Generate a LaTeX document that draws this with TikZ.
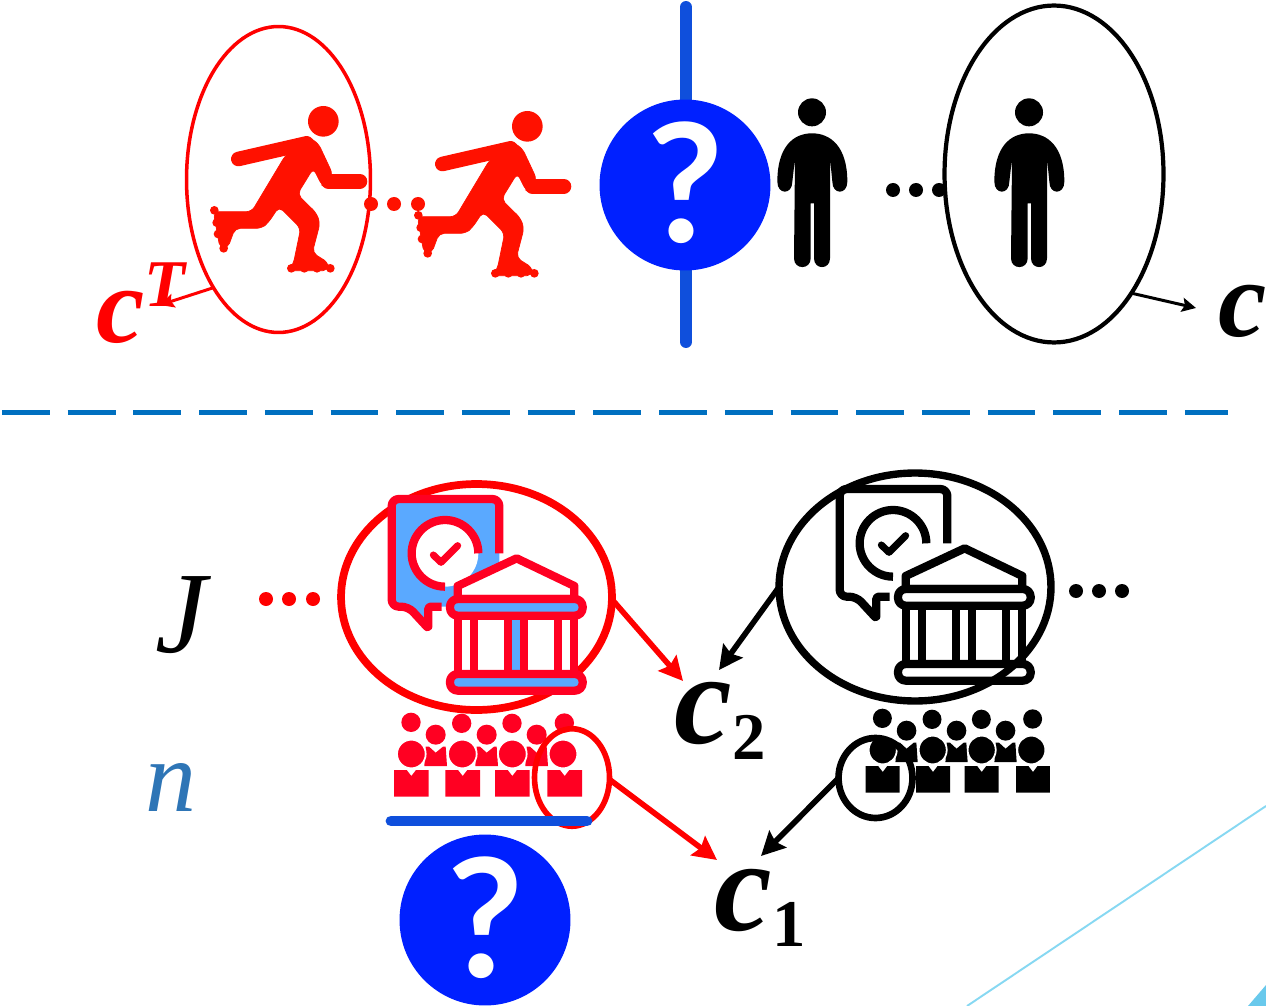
\documentclass[tikz,border=0pt]{standalone}
\usepackage{fontspec}
\usepackage{tikz}
\usetikzlibrary{arrows.meta,shapes.geometric}
\newfontfamily\questionfont{Lato}
\newfontfamily\labelfont{Liberation Serif}
\definecolor{skatered}{HTML}{FF1100}
\definecolor{ovalred}{HTML}{FF0000}
\definecolor{iconred}{HTML}{FF0022}
\definecolor{iconblue}{HTML}{5AA9FF}
\definecolor{questionblue}{HTML}{0020FF}
\definecolor{barblue}{HTML}{0F4FDC}
\definecolor{dashblue}{HTML}{0070C0}
\definecolor{letterblue}{HTML}{2E75B6}
\definecolor{cornerblue}{HTML}{87D8F2}
\definecolor{trianglblue}{HTML}{69C9EC}
\newcommand{\clabel}[2]{{\labelfont\fontsize{74}{74}\selectfont\bfseries\itshape #1}\raisebox{-9.5pt}{\labelfont\fontsize{38}{38}\selectfont\bfseries #2}}

\tikzset{
  pics/skater/.style={code={
    \begin{scope}[scale=1/3]
      \fill[skatered] (430,124) circle (46);
      \draw[skatered, line width=8.3pt, line cap=round] (175,237) -- (380,190);
      \draw[skatered, line width=8.3pt, line cap=round] (540,304) -- (445,304);
      \filldraw[skatered, line width=0.4pt, rounded corners=3pt] (315,228) -- (380,168) -- (415,190) -- (458,282) -- (440,325) -- (425,315) -- (400,265) -- (352,343) -- (410,400) -- (420,430) -- (397,518) -- (445,548) -- (445,572) -- (325,572) -- (340,552) -- (362,445) -- (297,380) -- (265,428) -- (245,445) -- (165,445) -- (143,505) -- (120,505) -- (100,395) -- (215,395) -- cycle;
      \foreach \x/\y in {103/391, 110/428, 114/462, 131/505, 334/565, 373/565, 411/565, 451/565}
        \fill[skatered] (\x,\y) circle (13);
    \end{scope}
  }},
  pics/person/.style={code={
    \begin{scope}[scale=1/3]
      \fill (126,67) circle (42);
      \fill (22,275) .. controls (22,170) and (70,130) .. (126,130) .. controls (182,130) and (232,170) .. (232,275) .. controls (232,315) and (187,315) .. (187,275) -- (180,205) -- (180,505) .. controls (180,540) and (132,540) .. (132,505) -- (132,340) -- (122,340) -- (122,505) .. controls (122,540) and (72,540) .. (72,505) -- (75,205) -- (67,275) .. controls (67,315) and (22,315) .. (22,275) -- cycle;
    \end{scope}
  }},
  pics/bank/.style n args={2}{code={
    \begin{scope}[scale=1/3, line width=4.7pt, line join=round]
      % speech bubble
      \fill[#2] (35,57) -- (358,57) -- (358,380) -- (145,380) -- (145,445) -- (85,380) -- (35,380) -- cycle;
      \fill[white] (195,220) circle (100);
      \draw[#1, rounded corners=4pt] (358,220) -- (358,57) -- (35,57) -- (35,380) -- (85,380) [rounded corners=1pt] -- (145,445) -- (145,380) -- (185,380);
      \draw[#1] (295,220) .. controls (295,165) and (250,120) .. (195,120) .. controls (140,120) and (95,165) .. (95,220) .. controls (95,275) and (140,320) .. (195,320);
      \draw[#1, line width=4pt, line cap=round] (160,225) -- (183,247) -- (233,197);
      % building
      \draw[#1, fill=white] (233,357) -- (233,318) -- (410,235) -- (583,318) -- (583,357) -- cycle;
      \fill[white] (233,407) rectangle (583,582);
      \fill[#2] (383,407) rectangle (433,582);
      \foreach \x in {233,283,383,433,533,583}
        \draw[#1] (\x,407) -- (\x,582);
      \draw[#1, fill=#2, rounded corners=4.4pt] (210,357) rectangle (608,407);
      \draw[#1, fill=#2, rounded corners=4.4pt] (210,582) rectangle (608,632);
    \end{scope}
  }},
  pics/crowd/.style={code={
    \begin{scope}[scale=1/3]
      \foreach \x/\y in {93/727, 245/730, 396/730, 553/729}
        \fill[#1] (\x,\y) circle (29);
      \foreach \x in {167,320,470} {
        \fill[#1] (\x,764) circle (30);
        \fill[#1] ({\x-30},800) -- ({\x-20},800) -- (\x,818) -- ({\x+22},800) -- ({\x+30},800) -- ({\x+34},858) -- ({\x-34},858) -- cycle;
      }
      \foreach \x in {94,247,397,549}
        \draw[#1, fill=#1, draw=white, line width=1pt] (\x,822) circle (43);
      \foreach \x in {42,196,345,502}
        \fill[#1] (\x,870) -- ({\x+38},870) -- ({\x+52},888) -- ({\x+66},870) -- ({\x+104},870) -- ({\x+104},950) -- (\x,950) -- cycle;
    \end{scope}
  }}
}

\begin{document}
\begin{tikzpicture}[
  x=0.02cm, y=-0.02cm,
  oval/.style={draw, ellipse, inner sep=0pt, outer sep=0pt},
  question/.style={circle, fill=questionblue, text=white, inner sep=0pt, minimum size=3.42cm, font=\questionfont\bfseries\fontsize{94}{94}\selectfont},
  thinarrow/.style={-{Stealth[length=8pt, width=8pt, inset=1.5pt]}, line width=1.7pt},
  thickarrow/.style={-{Stealth[length=13.5pt, width=13.5pt, inset=2pt]}, line width=3.2pt},
  bar/.style={barblue, line cap=round}
]
\useasboundingbox (0,0) rectangle (1266,1006);

% corner of the slide behind
\draw[cornerblue, line width=1.1pt] (1266,806) -- (967,1006);
\fill[trianglblue] (1266,985) -- (1248,1006) -- (1266,1006) -- cycle;

% upper part
\draw[bar, line width=6.8pt] (686,7) -- (686,342);
\node[question] (topquestion) at (685,185) {\raisebox{3.5pt}{?}};

\pic at (180,80) {skater};
\pic at (384,85) {skater};
\pic at (770,90) {person};
\pic at (987,90) {person};

\node[oval, ovalred, line width=2pt, minimum width=3.68cm, minimum height=6.12cm] (skateoval) at (278.5,179.5) {};
\node[oval, black, line width=2.4pt, minimum width=4.38cm, minimum height=6.74cm] (personoval) at (1054,174) {};

\foreach \x in {371,394,418}
  \fill[skatered] (\x,204) circle (7);
\foreach \x in {893,916,939}
  \fill (\x,190) circle (7);

\node[anchor=base west, ovalred, inner sep=0pt, font=\labelfont\fontsize{62}{62}\selectfont\bfseries\itshape] (ctarget) at (96,343) {c\raisebox{21pt}{\fontsize{38}{38}\selectfont T}};
\node[anchor=base west, inner sep=0pt, font=\labelfont\fontsize{62}{62}\selectfont\bfseries\itshape] (cplain) at (1218,337) {c};
\coordinate (ctargettip) at (160,305);
\coordinate (cplaintip) at (1196,308);

\draw[thinarrow, ovalred] (skateoval.239) -- (ctargettip);
\draw[thinarrow] (personoval.-57) -- (cplaintip);

\draw[dashblue, line width=2.3pt, dash pattern=on 27.2pt off 10.2pt] (2,412.5) -- (1228,412.5);

% lower part
\node[anchor=base, font=\labelfont\fontsize{66}{66}\selectfont\itshape, inner sep=0pt] (jlabel) at (181,652) {J};
\node[anchor=base, font=\labelfont\fontsize{58}{58}\selectfont\itshape, text=letterblue, inner sep=0pt] (nlabel) at (171,811) {n};

\pic at (828,470) {bank={black}{white}};
\node[oval, black, line width=4.2pt, minimum width=5.44cm, minimum height=4.56cm] (blackjury) at (915,587) {};
\node[oval, ovalred, line width=4.4pt, minimum width=5.42cm, minimum height=4.52cm] (redjury) at (476.5,597) {};
\pic at (380,480) {bank={iconred}{iconblue}};

\pic at (380,480) {crowd=iconred};
\pic[xscale=0.98] at (852,476) {crowd=black};

\node[oval, ovalred, line width=3.2pt, minimum width=1.5cm, minimum height=1.95cm] (redperson) at (572,777.5) {};
\node[oval, black, line width=3.8pt, minimum width=1.48cm, minimum height=1.6cm] (blackperson) at (875.5,778) {};

\foreach \x in {266,289,313}
  \fill[ovalred] (\x,599) circle (7);
\foreach \x in {1076,1099,1122}
  \fill (\x,591) circle (7);

\draw[bar, line width=6.2pt] (391,821) -- (587,821);
\node[question] (lowquestion) at (485,920) {\raisebox{3.5pt}{?}};

\node[anchor=base west, inner sep=0pt] (ctwo) at (674,743) {\clabel{c}{2}};
\node[anchor=base west, inner sep=0pt] (cone) at (714,930) {\clabel{c}{1}};
\coordinate (ctwored) at (683,681);
\coordinate (ctwoblack) at (719,670);
\coordinate (conered) at (717,860);
\coordinate (coneblack) at (761,856);

\draw[thickarrow, ovalred] (redjury.-1) -- (ctwored);
\draw[thickarrow] (blackjury.180) -- (ctwoblack);
\draw[thickarrow, ovalred] (redperson.-3) -- (conered);
\draw[thickarrow] (blackperson.180) -- (coneblack);

\end{tikzpicture}
\end{document}
